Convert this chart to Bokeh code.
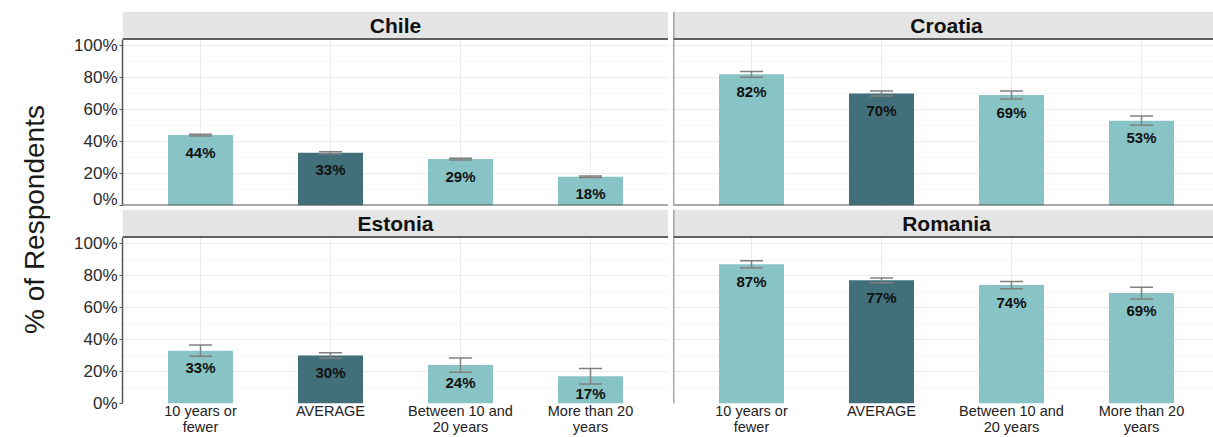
import math

from bokeh.core.properties import value
from bokeh.embed import file_html
from bokeh.layouts import column, row
from bokeh.models import (ColumnDataSource, FixedTicker, Grid, Label, LinearAxis,
                          PrintfTickFormatter, Range1d, Span, TeeHead, Whisker)
from bokeh.plotting import figure
from bokeh.resources import INLINE

# ---- data -------------------------------------------------------------
categories = ["10 years or fewer", "AVERAGE", "Between 10 and 20 years", "More than 20 years"]
tick_labels = ["10 years or\nfewer", "AVERAGE", "Between 10 and\n20 years", "More than 20\nyears"]
countries = ["Chile", "Croatia", "Estonia", "Romania"]

chile_pct = [44, 33, 29, 18]
chile_err = [0.5, 0.6, 0.6, 0.5]
croatia_pct = [82, 70, 69, 53]
croatia_err = [1.8, 1.6, 2.5, 2.9]
estonia_pct = [33, 30, 24, 17]
estonia_err = [3.5, 1.7, 4.5, 4.8]
romania_pct = [87, 77, 74, 69]
romania_err = [2.2, 1.5, 2.3, 3.7]

y_ticks = [0, 20, 40, 60, 80, 100]
y_minor = [10, 30, 50, 70, 90]

# ---- styling ----------------------------------------------------------
FONT = "Liberation Sans"
LIGHT = "#88C3C5"
DARK = "#41707B"
ERR = "#808080"
AXIS = "#555555"
STRIP = "#E5E5E5"
PX_PER_UNIT = 130          # screen pixels per category step
PANEL_TOP = 104            # top of the data panel (percent)
Y_TOP = 121.25             # top of the strip (percent)


def panel(name, pct, err, width, height, border_left, border_top, border_bottom,
          left_axis, bottom_axis):
    frame_w = width - border_left
    x_start = -0.6
    x_end = x_start + frame_w / PX_PER_UNIT
    p = figure(width=width, height=height,
               x_range=Range1d(x_start, x_end), y_range=Range1d(0, Y_TOP),
               x_axis_location=None, y_axis_location=None,
               toolbar_location=None, output_backend="svg",
               min_border_left=border_left, min_border_right=0,
               min_border_top=border_top, min_border_bottom=border_bottom,
               outline_line_color=None, background_fill_color="white",
               border_fill_color="white")
    p.grid.visible = False

    idx = list(range(len(categories)))
    p.add_layout(Grid(dimension=1, ticker=FixedTicker(ticks=y_ticks, minor_ticks=y_minor),
                      grid_line_color="#EBEBEB", grid_line_width=1,
                      minor_grid_line_color="#F5F5F5", minor_grid_line_width=1))
    p.add_layout(Grid(dimension=0, ticker=FixedTicker(ticks=idx),
                      grid_line_color="#EBEBEB", grid_line_width=1))

    src = ColumnDataSource(dict(
        x=idx,
        pct=pct,
        upper=[v + e for v, e in zip(pct, err)],
        lower=[v - e for v, e in zip(pct, err)],
        color=[DARK if c == "AVERAGE" else LIGHT for c in categories],
        label=[f"{v}%" for v in pct],
    ))

    p.vbar(x="x", top="pct", bottom=0, width=0.5, fill_color="color",
           line_color=None, source=src)
    p.text(x="x", y="pct", text="label", source=src, text_font=value(FONT),
           text_font_style="bold", text_font_size="15px", text_color="#111111",
           text_align="center", text_baseline="middle", y_offset=17)
    p.add_layout(Whisker(source=src, base="x", upper="upper", lower="lower",
                         dimension="height", line_color=ERR, line_width=1.5,
                         level="overlay",
                         upper_head=TeeHead(size=23, line_color=ERR, line_width=1.5),
                         lower_head=TeeHead(size=23, line_color=ERR, line_width=1.5)))

    # facet strip
    p.quad(left=x_start, right=x_end, bottom=PANEL_TOP, top=Y_TOP,
           fill_color=STRIP, line_color=None)
    p.add_layout(Span(location=PANEL_TOP, dimension="width",
                      line_color="#5F5F5F", line_width=2))
    p.text(x=[(len(categories) - 1) / 2], y=[(PANEL_TOP + Y_TOP) / 2], text=[name],
           text_font=value(FONT), text_font_style="bold", text_font_size="21px",
           text_color="#111111", text_align="center", text_baseline="middle")

    if left_axis:
        ax = LinearAxis(ticker=FixedTicker(ticks=y_ticks),
                        formatter=PrintfTickFormatter(format="%d%%"),
                        bounds=(0, PANEL_TOP),
                        axis_line_color=AXIS, axis_line_width=1.5,
                        major_tick_line_color=AXIS, major_tick_out=3, major_tick_in=0,
                        minor_tick_line_color=None,
                        major_label_text_font=FONT, major_label_text_font_size="17px",
                        major_label_text_color="#2A2A2A", major_label_standoff=2)
        p.add_layout(ax, "left")
    else:
        p.add_layout(Span(location=x_start, dimension="height",
                          line_color=AXIS, line_width=1.5))

    if bottom_axis:
        xa = LinearAxis(ticker=FixedTicker(ticks=idx),
                        major_label_overrides={i: t for i, t in enumerate(tick_labels)},
                        axis_line_color=None, major_tick_line_color=None,
                        major_tick_out=0, major_tick_in=0, minor_tick_line_color=None,
                        major_label_text_font=FONT, major_label_text_font_size="14.5px",
                        major_label_text_color="#222222", major_label_standoff=-1,
                        major_label_text_line_height=1.0)
        p.add_layout(xa, "below")
    else:
        p.add_layout(Span(location=0, dimension="width", line_color=AXIS, line_width=2))
    return p


TOP_H, BOT_H = 208, 229
LEFT_W, RIGHT_W = 608, 545

tl = panel(countries[0], chile_pct, chile_err, LEFT_W, TOP_H, 62, 11, 3, True, False)
tr = panel(countries[1], croatia_pct, croatia_err, RIGHT_W, TOP_H, 5, 11, 3, False, False)
bl = panel(countries[2], estonia_pct, estonia_err, LEFT_W, BOT_H, 62, 1, 34, True, True)
br = panel(countries[3], romania_pct, romania_err, RIGHT_W, BOT_H, 5, 1, 34, False, True)

# shared y-axis title
title_fig = figure(width=60, height=TOP_H + BOT_H, x_range=Range1d(0, 60),
                   y_range=Range1d(0, TOP_H + BOT_H),
                   x_axis_location=None, y_axis_location=None,
                   toolbar_location=None, output_backend="svg",
                   min_border=0, outline_line_color=None)
title_fig.grid.visible = False
title_fig.add_layout(Label(x=34, y=TOP_H + BOT_H - 219, text="% of Respondents",
                           angle=math.pi / 2, text_align="center",
                           text_baseline="alphabetic", text_font=FONT,
                           text_font_size="28px", text_color="#1A1A1A"))

layout = row(title_fig, column(row(tl, tr), row(bl, br)))

with open("out.html", "w") as f:
    f.write(file_html(layout, INLINE))
